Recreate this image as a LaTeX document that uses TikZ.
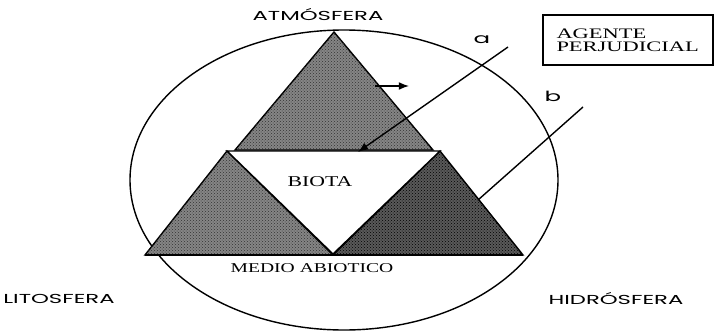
\documentclass[tikz,border=0pt]{standalone}
\usepackage{fontspec}
\setmainfont[FakeStretch=1.45]{Liberation Serif}
\newfontfamily\boxfont[FakeStretch=1.55]{Liberation Serif}
\newfontfamily\geofont[FakeStretch=1.75]{Poppins}
\usepackage{tikz}
\usetikzlibrary{positioning,arrows.meta,patterns}
\usepackage{xcolor}

\begin{document}
\begin{tikzpicture}[
    x=1pt, y=-1pt,
    sphere/.style={font=\geofont\fontsize{13}{15}\selectfont},
    tag/.style={font=\geofont\fontsize{14}{16}\selectfont},
    serif/.style={font=\fontsize{13.5}{15}\selectfont},
    rock/.style={draw, line width=1.4pt, fill=black!48,
                 postaction={pattern=crosshatch dots, pattern color=black!80}},
    deep/.style={draw, line width=1.4pt, fill=black!65,
                 postaction={pattern=crosshatch dots, pattern color=black}},
    line/.style={line width=1.4pt},
    arrow/.style={-{Latex[length=3.6mm, width=2.8mm]}, line width=1.4pt}
]
\useasboundingbox (0,0) rectangle (716,330);

% medio ambiente
\draw[line] (344,180) ellipse [x radius=214, y radius=150];

% triangulos
\draw[rock] (334,32) -- (433,150) -- (235,150) -- cycle;
\draw[rock] (227,151) -- (333,255) -- (145,255) -- cycle;
\draw[deep] (440,151) -- (523,255) -- (333,255) -- cycle;
\draw[line, fill=white] (227,151) -- (440,151) -- (333,254) -- cycle;
\draw[line] (145,255) -- (523,255);

% textos
\node[sphere] (atm) at (318,15) {ATMÓSFERA};
\node[sphere] (lito) at (59,299) {LITOSFERA};
\node[sphere] (hidro) at (616,299) {HIDRÓSFERA};
\node[serif, font=\fontsize{15}{15}\selectfont] (biota) at (320,182) {BIOTA};
\node[serif] (abio) at (312,268) {MEDIO ABIOTICO};
\node[draw, line width=1.2pt, align=left, inner sep=0pt, minimum width=170, minimum height=50,
      font=\boxfont\fontsize{14.5}{13}\selectfont, text width=143] (agente) at (628,40)
      {AGENTE\\PERJUDICIAL};

% agentes
\coordinate (a0) at (508,47);
\coordinate (a1) at (358,152);
\coordinate (b0) at (583,107);
\coordinate (b1) at (478,200);
\coordinate (f0) at (375,86);
\coordinate (f1) at (409,86);
\node[tag] (la) at (482,40) {a};
\node[tag] (lb) at (553,96) {b};
\draw[arrow] (a0) -- (a1);
\draw[line] (b0) -- (b1);
\draw[arrow] (f0) -- (f1);
\end{tikzpicture}
\end{document}
